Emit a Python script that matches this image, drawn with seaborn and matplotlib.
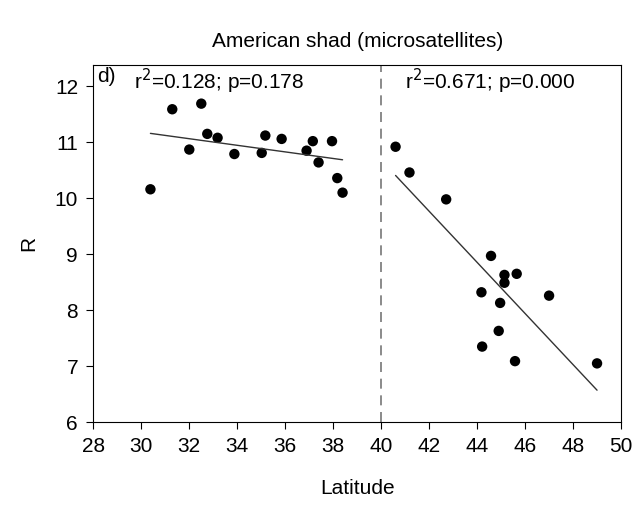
import seaborn as sns
import matplotlib.pyplot as plt
import pandas as pd

# southern group (latitude < 40)
lat_south = [30.38, 31.29, 32.0, 32.5, 32.75, 33.18, 33.88, 35.02, 35.17, 35.85,
             36.89, 37.15, 37.39, 37.95, 38.17, 38.39]
r_south = [10.16, 11.59, 10.87, 11.69, 11.15, 11.08, 10.79, 10.81, 11.12, 11.06,
           10.85, 11.02, 10.64, 11.02, 10.36, 10.10]

# northern group (latitude > 40)
lat_north = [40.6, 41.18, 42.71, 44.58, 45.14, 45.65, 45.14, 44.18, 47.0, 44.96,
             44.9, 44.21, 45.58, 49.0]
r_north = [10.92, 10.46, 9.98, 8.97, 8.63, 8.65, 8.49, 8.32, 8.26, 8.13,
           7.63, 7.35, 7.09, 7.05]

xticks = list(range(28, 51, 2))
yticks = list(range(6, 13))

south = pd.DataFrame({"Latitude": lat_south, "R": r_south})
north = pd.DataFrame({"Latitude": lat_north, "R": r_north})

sns.set_style("ticks")
plt.rcParams["font.family"] = ["Liberation Sans", "DejaVu Sans"]
plt.rcParams["text.color"] = "black"
plt.rcParams["axes.labelcolor"] = "black"
fs = 15

fig = plt.figure(figsize=(6.35, 5.08), dpi=100)
ax = fig.add_axes([0.147, 0.169, 0.831, 0.703])

for df in (south, north):
    sns.regplot(data=df, x="Latitude", y="R", ci=None, ax=ax,
                scatter_kws={"s": 56, "color": "black", "edgecolor": "none", "alpha": 1},
                line_kws={"color": "#333333", "linewidth": 1.0})

ax.axvline(40, color="#777777", linestyle=(0, (6, 4)), linewidth=1.2)

ax.set_xlim(28, 50)
ax.set_ylim(6, 12.38)
ax.set_xticks(xticks)
ax.set_yticks(yticks)
ax.tick_params(direction="out", length=5, width=0.8, pad=6, labelsize=fs, colors="black")
for s in ax.spines.values():
    s.set_color("black")
    s.set_linewidth(0.8)

ax.set_xlabel("Latitude", fontsize=fs, labelpad=16)
ax.set_ylabel("R", fontsize=fs, labelpad=12)
ax.set_title("American shad (microsatellites)", fontsize=fs, pad=13, color="black")

ax.text(28.15, 12.34, "d)", fontsize=fs, va="top")
ax.text(29.7, 12.34, r"r$^2$=0.128; p=0.178", fontsize=fs, va="top")
ax.text(41.0, 12.34, r"r$^2$=0.671; p=0.000", fontsize=fs, va="top")

fig.savefig("out.png", dpi=100)
